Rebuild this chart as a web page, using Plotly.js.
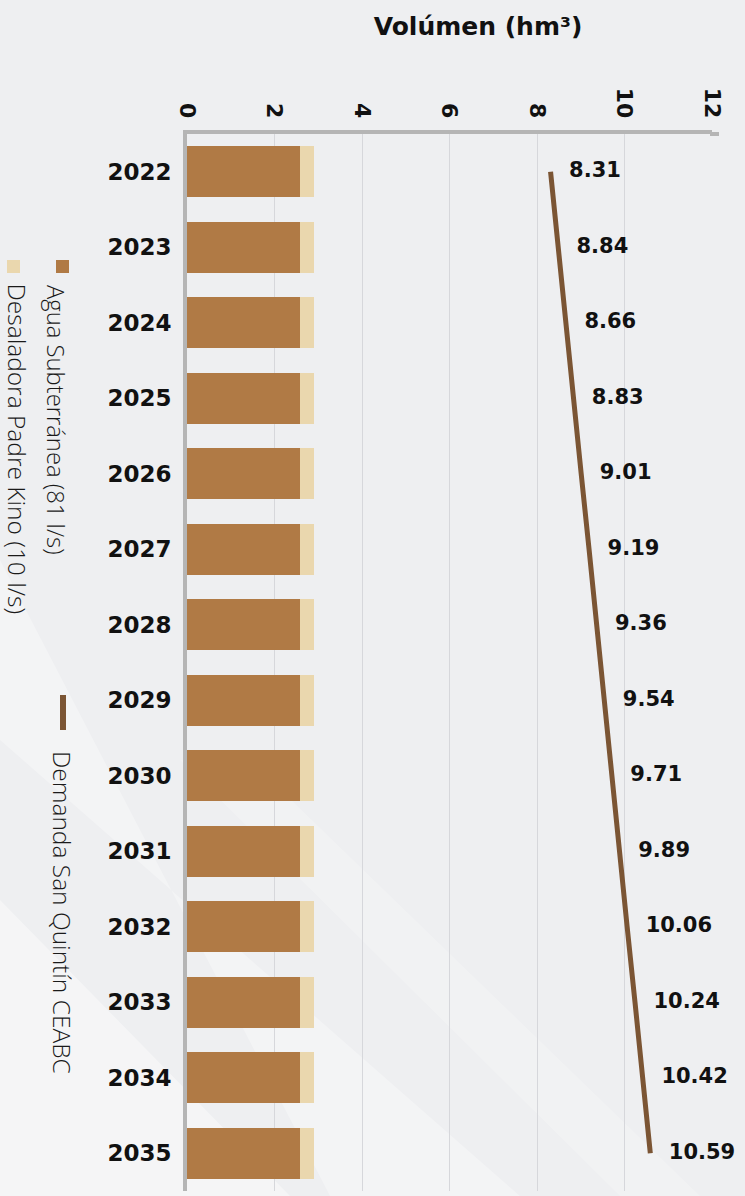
<!DOCTYPE html>
<html>
<head>
<meta charset="utf-8">
<script src="https://cdn.plot.ly/plotly-3.0.1.min.js"></script>
<style>
  html, body { margin: 0; padding: 0; background: #eeeff1; }
  #chart { width: 745px; height: 1196px; }
</style>
</head>
<body>
<div id="chart"></div>
<script>
// ---- data ----
const years = ['2022','2023','2024','2025','2026','2027','2028','2029','2030','2031','2032','2033','2034','2035'];
const aguaSubterranea = [2.58,2.58,2.58,2.58,2.58,2.58,2.58,2.58,2.58,2.58,2.58,2.58,2.58,2.58];
const desaladora = [0.33,0.33,0.33,0.33,0.33,0.33,0.33,0.33,0.33,0.33,0.33,0.33,0.33,0.33];
const demanda = [8.31,8.48,8.66,8.83,9.01,9.19,9.36,9.54,9.71,9.89,10.06,10.24,10.42,10.59];
const demandaLabels = ['8.31','8.84','8.66','8.83','9.01','9.19','9.36','9.54','9.71','9.89','10.06','10.24','10.42','10.59'];
const xTicks = [0,2,4,6,8,10,12];
const seriesNames = ['Agua Subterránea (81 l/s)','Desaladora Padre Kino (10 l/s)','Demanda San Quintín CEABC'];
const titleText = 'Volúmen (hm³)';

// ---- style ----
const cAgua = '#b07a45';
const cDesal = '#ead7ae';
const cDem = '#7b5534';
const boldFont = 'DejaVu Sans, sans-serif';
const lightFont = 'Open Sans, Noto Sans, sans-serif';

const traces = [
  { type: 'bar', orientation: 'h', name: seriesNames[0], y: years, x: aguaSubterranea,
    marker: { color: cAgua }, hoverinfo: 'skip' },
  { type: 'bar', orientation: 'h', name: seriesNames[1], y: years, x: desaladora,
    marker: { color: cDesal }, hoverinfo: 'skip' },
  { type: 'scatter', mode: 'lines+markers+text', name: seriesNames[2], y: years, x: demanda,
    text: demandaLabels, textposition: 'middle right',
    textfont: { family: boldFont, size: 21, color: '#111', weight: 'bold' },
    line: { color: cDem, width: 5 },
    marker: { size: 28, opacity: 0, color: cDem },
    cliponaxis: false, hoverinfo: 'skip' }
];

const W = 745, H = 1196;
const M = { l: 187, r: 33, t: 134, b: 5 };
const PW = W - M.l - M.r, PH = H - M.t - M.b;
// convert figure pixel position to paper (plot-area) coordinates
const px = (x) => (x - M.l) / PW;
const py = (y) => (H - M.b - y) / PH;

const shapes = [
  // subtle diagonal light streaks in the background
  { type: 'path', xref: 'paper', yref: 'paper', layer: 'below',
    path: `M ${px(0)},${py(560)} L ${px(0)},${py(740)} L ${px(520)},${py(1196)} L ${px(330)},${py(1196)} Z`,
    fillcolor: 'rgba(255,255,255,0.3)', line: { width: 0 } },
  { type: 'path', xref: 'paper', yref: 'paper', layer: 'below',
    path: `M ${px(0)},${py(900)} L ${px(0)},${py(1196)} L ${px(290)},${py(1196)} Z`,
    fillcolor: 'rgba(255,255,255,0.4)', line: { width: 0 } },
  { type: 'path', xref: 'paper', yref: 'paper', layer: 'below',
    path: `M ${px(180)},${py(760)} L ${px(250)},${py(760)} L ${px(700)},${py(1196)} L ${px(620)},${py(1196)} Z`,
    fillcolor: 'rgba(255,255,255,0.2)', line: { width: 0 } },
  // extension of the top axis line slightly past the last tick
  { type: 'line', xref: 'paper', yref: 'paper',
    x0: px(710), x1: px(719), y0: py(134), y1: py(134), line: { color: '#b5b5b5', width: 4 } },
  // legend symbols
  { type: 'rect', xref: 'paper', yref: 'paper',
    x0: px(56), x1: px(69), y0: py(273), y1: py(260), fillcolor: cAgua, line: { width: 0 } },
  { type: 'rect', xref: 'paper', yref: 'paper',
    x0: px(7), x1: px(20), y0: py(273), y1: py(260), fillcolor: cDesal, line: { width: 0 } },
  { type: 'line', xref: 'paper', yref: 'paper',
    x0: px(63), x1: px(63), y0: py(730), y1: py(695), line: { color: cDem, width: 6 } }
];

const legFont = { family: lightFont, size: 24.5, color: '#1a1a1a', weight: 300 };
const annotations = [
  { xref: 'paper', yref: 'paper', x: px(56), y: py(420), text: seriesNames[0], textangle: 90,
    showarrow: false, xanchor: 'center', yanchor: 'middle',
    font: Object.assign({}, legFont, { size: 23.8 }) },
  { xref: 'paper', yref: 'paper', x: px(16.5), y: py(449), text: seriesNames[1], textangle: 90,
    showarrow: false, xanchor: 'center', yanchor: 'middle', font: legFont },
  { xref: 'paper', yref: 'paper', x: px(63), y: py(912), text: seriesNames[2], textangle: 90,
    showarrow: false, xanchor: 'center', yanchor: 'middle', font: legFont }
];

const layout = {
  width: W, height: H,
  paper_bgcolor: '#eeeff1',
  plot_bgcolor: 'rgba(0,0,0,0)',
  margin: { l: M.l, r: M.r, t: M.t, b: M.b, pad: 0 },
  barmode: 'stack',
  bargap: 0.325,
  showlegend: false,
  title: { text: titleText, xref: 'container', yref: 'container', x: 478 / W, y: 1 - 26 / H,
           xanchor: 'center', yanchor: 'middle',
           font: { family: boldFont, size: 25, color: '#111', weight: 'bold' } },
  xaxis: {
    side: 'top', range: [0, 12], tickvals: xTicks, ticktext: xTicks.map(String),
    tickangle: 90, ticks: '', ticklabelstandoff: 4,
    tickfont: { family: boldFont, size: 22, color: '#111', weight: 'bold' },
    showgrid: true, gridcolor: '#d6d7db', gridwidth: 1,
    showline: true, linecolor: '#b5b5b5', linewidth: 4, zeroline: false, fixedrange: true
  },
  yaxis: {
    type: 'category', categoryorder: 'array', categoryarray: years,
    range: [13.5, -0.5], ticks: '', ticklabelstandoff: 7,
    tickfont: { family: boldFont, size: 23, color: '#111', weight: 'bold' },
    showgrid: false, showline: true, linecolor: '#b5b5b5', linewidth: 4, zeroline: false,
    fixedrange: true
  },
  shapes: shapes,
  annotations: annotations
};

Plotly.newPlot('chart', traces, layout, { displayModeBar: false, staticPlot: true });
</script>
</body>
</html>
